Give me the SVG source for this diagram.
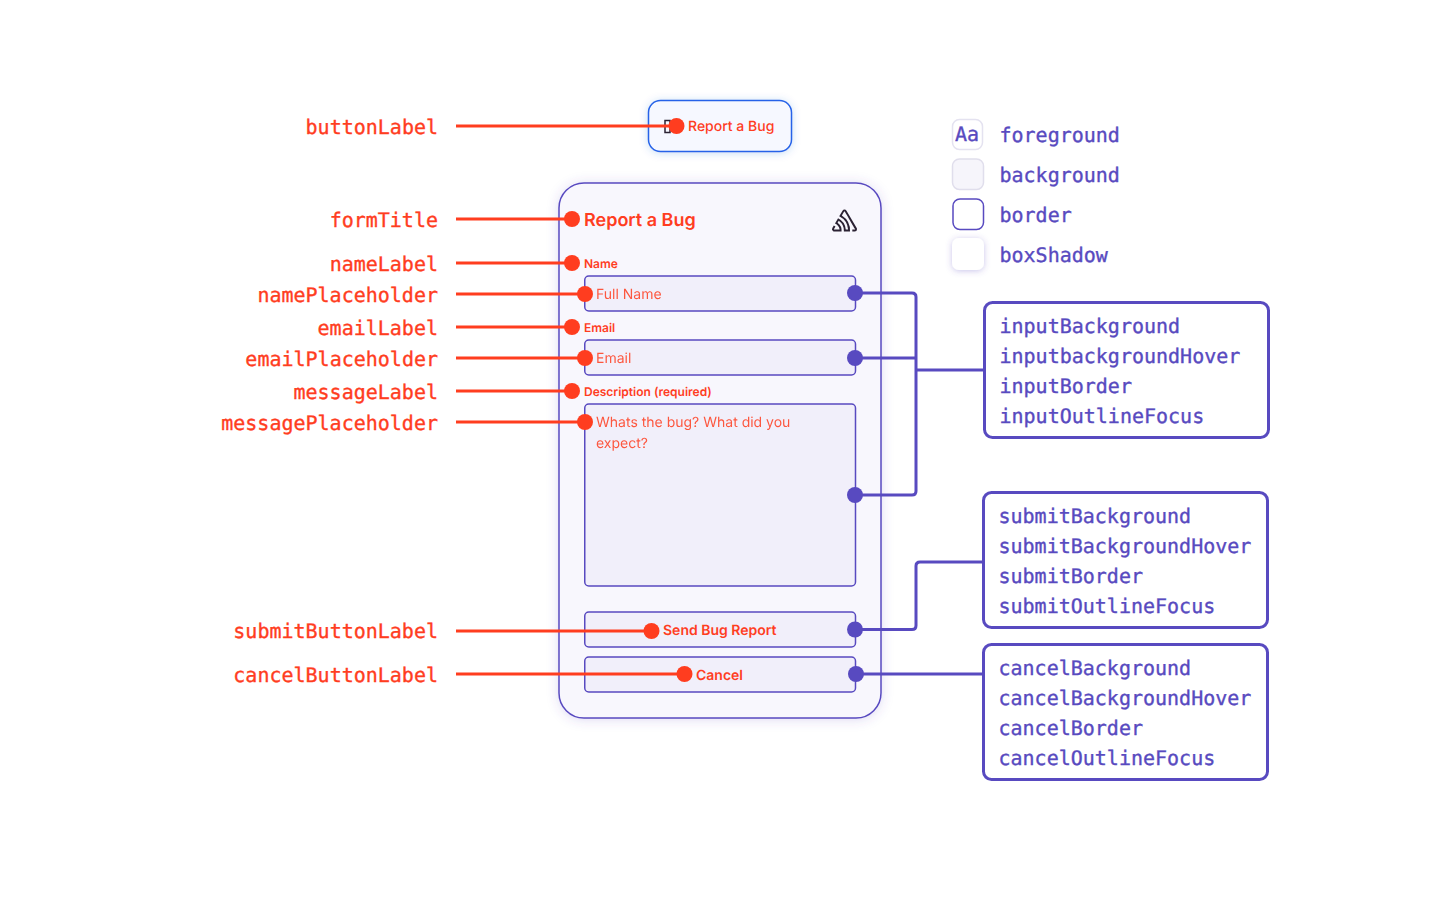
<svg xmlns="http://www.w3.org/2000/svg" width="1440" height="900" viewBox="0 0 1440 900">
<defs>
<filter id="sh" x="-20%" y="-20%" width="140%" height="140%"><feDropShadow dx="0" dy="1" stdDeviation="6" flood-color="#584ac0" flood-opacity="0.2"/></filter>
<filter id="shb" x="-30%" y="-50%" width="160%" height="200%"><feDropShadow dx="0" dy="1" stdDeviation="4" flood-color="#2562d4" flood-opacity="0.22"/></filter>
<filter id="shs" x="-50%" y="-50%" width="200%" height="200%"><feDropShadow dx="0" dy="1" stdDeviation="3" flood-color="#584ac0" flood-opacity="0.32"/></filter>
</defs>
<style>
text{text-rendering:geometricPrecision}
.m{font-family:"DejaVu Sans Mono","Liberation Mono",monospace;font-size:20px;stroke-width:.35px}
.r{fill:#ff3d1f;stroke:#ff3d1f;text-anchor:end}
.p{fill:#584ac0;stroke:#584ac0}
.s{font-family:Inter,"Noto Sans",sans-serif;fill:#ff3d1f}
.rl{stroke:#ff3d1f;stroke-width:3;fill:none}
.pl{stroke:#584ac0;stroke-width:3;fill:none}
.rd{fill:#ff3d1f}
.pd{fill:#584ac0}
.inp{fill:#f1effa;stroke:#584ac0;stroke-width:1.5}
.bx{fill:#fff;stroke:#584ac0;stroke-width:3}
</style>
<g id="trigger">
<rect x="648.500" y="100.500" width="143" height="51" rx="12" fill="#f6f8ff" stroke="#2562e8" stroke-width="1.500" filter="url(#shb)"/>
<rect x="665" y="120.500" width="5" height="12" fill="none" stroke="#2b2233" stroke-width="1.500"/>
<text class="s" x="688" y="131" font-size="14" font-weight="500">Report a Bug</text>
</g>
<g id="form">
<rect x="559" y="183" width="322" height="535" rx="25" fill="#f8f7fd" stroke="#584ac0" stroke-width="1.500" filter="url(#sh)"/>
<text class="s" x="584" y="226" font-size="18" font-weight="600">Report a Bug</text>
<path transform="translate(832 209.500) scale(.5)" fill="#2b2233" d="M29,2.26a4.67,4.67,0,0,0-8,0L14.42,13.53A32.21,32.21,0,0,1,32.17,40.19H27.55A27.68,27.68,0,0,0,12.09,17.47L6,28a15.92,15.92,0,0,1,9.23,12.17H4.62A.76.76,0,0,1,4,39.06l2.94-5a10.74,10.74,0,0,0-3.36-1.9l-2.91,5a4.54,4.54,0,0,0,1.69,6.24A4.66,4.66,0,0,0,4.62,44H19.15a19.4,19.4,0,0,0-8-17.31l2.31-4A23.87,23.87,0,0,1,23.76,44H36.07a35.88,35.88,0,0,0-16.41-31.8l4.67-8a.77.77,0,0,1,1.05-.27c.53.29,20.29,34.77,20.66,35.17a.76.76,0,0,1-.68,1.13H40.6q.09,1.91,0,3.81h4.78A4.59,4.59,0,0,0,50,39.43a4.49,4.49,0,0,0-.62-2.28Z"/>
</g>
<g id="name-field">
<text class="s" x="584" y="268" font-size="12" font-weight="600">Name</text>
<rect class="inp" x="584.750" y="276" width="270.750" height="35" rx="4"/>
<text class="s" x="596" y="299" font-size="14" opacity="0.85">Full Name</text>
</g>
<g id="email-field">
<text class="s" x="584" y="332" font-size="12" font-weight="600">Email</text>
<rect class="inp" x="584.750" y="340" width="270.750" height="35" rx="4"/>
<text class="s" x="596" y="363" font-size="14" opacity="0.85">Email</text>
</g>
<g id="message-field">
<text class="s" x="584" y="396" font-size="12" font-weight="600">Description (required)</text>
<rect class="inp" x="584.750" y="404" width="270.750" height="182" rx="4"/>
<text class="s" x="596" y="427" font-size="14" opacity="0.85">Whats the bug? What did you</text>
<text class="s" x="596" y="448" font-size="14" opacity="0.85">expect?</text>
</g>
<g id="submit-button">
<rect class="inp" x="584.750" y="612" width="270.750" height="35" rx="4"/>
<text class="s" x="663" y="635" font-size="14" font-weight="600">Send Bug Report</text>
</g>
<g id="cancel-button">
<rect class="inp" x="584.750" y="657" width="270.750" height="35" rx="4"/>
<text class="s" x="696" y="680" font-size="14" font-weight="600">Cancel</text>
</g>
<g id="legend">
<g id="legend-foreground"><rect x="952.500" y="119.500" width="30" height="30" rx="7" fill="#fff" stroke="#e4e2f0" stroke-width="1.500"/><text class="m p" x="955" y="141">Aa</text><text class="m p" x="999.500" y="142">foreground</text></g>
<g id="legend-background"><rect x="952.500" y="159" width="31" height="30.500" rx="7" fill="#f6f5fb" stroke="#e0deec" stroke-width="1.500"/><text class="m p" x="999.500" y="182">background</text></g>
<g id="legend-border"><rect x="953" y="199" width="30.500" height="30.500" rx="7" fill="#fff" stroke="#584ac0" stroke-width="1.500"/><text class="m p" x="999.500" y="222">border</text></g>
<g id="legend-shadow"><rect x="952" y="238" width="32" height="32" rx="7" fill="#fff" filter="url(#shs)"/><text class="m p" x="999.500" y="262">boxShadow</text></g>
</g>
<g id="input-tokens">
<rect class="bx" x="984.500" y="302.500" width="284" height="135" rx="8"/>
<text class="m p" x="999.500" y="333">inputBackground</text>
<text class="m p" x="999.500" y="363">inputbackgroundHover</text>
<text class="m p" x="999.500" y="393">inputBorder</text>
<text class="m p" x="999.500" y="423">inputOutlineFocus</text>
</g>
<g id="submit-tokens">
<rect class="bx" x="983.500" y="492.500" width="284" height="135" rx="8"/>
<text class="m p" x="998.500" y="523">submitBackground</text>
<text class="m p" x="998.500" y="553">submitBackgroundHover</text>
<text class="m p" x="998.500" y="583">submitBorder</text>
<text class="m p" x="998.500" y="613">submitOutlineFocus</text>
</g>
<g id="cancel-tokens">
<rect class="bx" x="983.500" y="644.500" width="284" height="135" rx="8"/>
<text class="m p" x="998.500" y="675">cancelBackground</text>
<text class="m p" x="998.500" y="705">cancelBackgroundHover</text>
<text class="m p" x="998.500" y="735">cancelBorder</text>
<text class="m p" x="998.500" y="765">cancelOutlineFocus</text>
</g>
<g id="labels">
<text class="m r" x="438" y="134">buttonLabel</text>
<text class="m r" x="438" y="227">formTitle</text>
<text class="m r" x="438" y="271">nameLabel</text>
<text class="m r" x="438" y="302">namePlaceholder</text>
<text class="m r" x="438" y="335">emailLabel</text>
<text class="m r" x="438" y="366">emailPlaceholder</text>
<text class="m r" x="438" y="399">messageLabel</text>
<text class="m r" x="438" y="430">messagePlaceholder</text>
<text class="m r" x="438" y="638">submitButtonLabel</text>
<text class="m r" x="438" y="682">cancelButtonLabel</text>
</g>
<g id="connectors">
<path class="rl" d="M456 126H676M456 219H572M456 263H572M456 294H585M456 327H572M456 358H585M456 391H572M456 422H585M456 631H651M456 674H684"/>
<g class="rd">
<circle cx="676.500" cy="126" r="8"/><circle cx="572" cy="219" r="8"/><circle cx="572" cy="263" r="8"/><circle cx="585" cy="294" r="8"/><circle cx="572" cy="327" r="8"/><circle cx="585" cy="358" r="8"/><circle cx="572" cy="391" r="8"/><circle cx="585" cy="422" r="8"/><circle cx="651.500" cy="631" r="8"/><circle cx="684.500" cy="674" r="8"/>
</g>
<path class="pl" d="M855 293H912Q916 293 916 297V491Q916 495 912 495H855M855 358H916M916 370H984"/>
<path class="pl" d="M855 629.500H912Q916 629.500 916 625.500V566Q916 562 920 562H983"/>
<path class="pl" d="M856 674H983"/>
<g class="pd">
<circle cx="855" cy="293" r="8"/><circle cx="855" cy="358" r="8"/><circle cx="855" cy="495" r="8"/><circle cx="855" cy="629.500" r="8"/><circle cx="856" cy="674" r="8"/>
</g>
</g>
</svg>
